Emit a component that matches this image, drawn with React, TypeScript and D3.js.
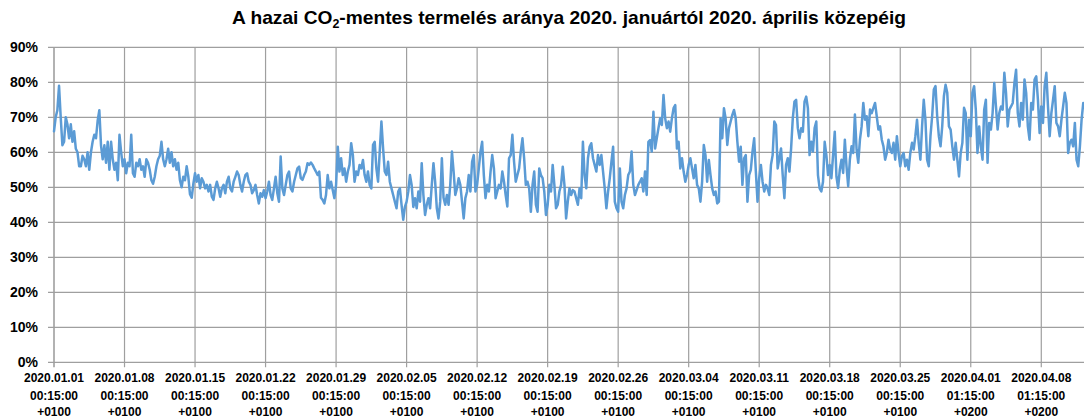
import React, { useMemo } from 'react';
import * as d3 from 'd3';

// ---- data ----
const yTickValues = [0, 10, 20, 30, 40, 50, 60, 70, 80, 90];
const yTickLabels = ['0%', '10%', '20%', '30%', '40%', '50%', '60%', '70%', '80%', '90%'];
const weekDates = ['2020.01.01', '2020.01.08', '2020.01.15', '2020.01.22', '2020.01.29', '2020.02.05', '2020.02.12', '2020.02.19', '2020.02.26', '2020.03.04', '2020.03.11', '2020.03.18', '2020.03.25', '2020.04.01', '2020.04.08'];
const weekTimes = ['00:15:00', '00:15:00', '00:15:00', '00:15:00', '00:15:00', '00:15:00', '00:15:00', '00:15:00', '00:15:00', '00:15:00', '00:15:00', '00:15:00', '00:15:00', '01:15:00', '01:15:00'];
const weekZones = ['+0100', '+0100', '+0100', '+0100', '+0100', '+0100', '+0100', '+0100', '+0100', '+0100', '+0100', '+0100', '+0100', '+0200', '+0200'];
const samplesPerDay = 6; // one reading every 4 hours
const daysShown = 102.24;

// CO2-free share (%), read every 4 hours, one array per week
const week01 = [66, 70, 72, 79, 70, 62, 63, 70, 68, 64, 68, 63, 66, 61, 60, 56, 56, 59, 58, 56, 60, 55, 60, 63, 65, 64, 69, 72, 62, 58, 62, 57, 63, 55, 63, 58, 55, 57, 52, 65, 60, 56];
const week02 = [58, 54, 57, 56, 65, 54, 53, 57, 56, 58, 55, 56, 53, 58, 57, 55, 52, 51, 53, 56, 58, 59, 63, 58, 56, 58, 61, 57, 60, 56, 58, 55, 57, 52, 50, 53, 52, 56, 53, 48, 47, 51];
const week03 = [54, 51.6, 53.5, 49.7, 52.6, 51.6, 49.7, 50.7, 48.8, 50.7, 47.3, 46.4, 49.7, 51.6, 49.7, 47.3, 49.7, 50.7, 48.3, 51.6, 53, 49.7, 48.8, 51.6, 53, 54.5, 53.5, 50.7, 48.8, 51.6, 53.5, 54, 51.6, 50.7, 48.3, 49.2, 50.7, 47.8, 45.4, 48.3, 47.3, 49.2];
const week04 = [46.9, 48.8, 51.6, 47.8, 46.4, 49.7, 53, 48.3, 45.9, 58.8, 49.7, 47.8, 50.7, 53.5, 54.5, 49.7, 48.8, 51.6, 53.5, 55.4, 55.9, 52.6, 52.1, 53.5, 54.5, 56.9, 56.4, 57.1, 56.4, 55.4, 54.5, 53.5, 54.5, 47, 46.4, 45.4, 47.8, 53.5, 49.7, 51.6, 49.2, 46.9];
const week05 = [50.7, 61.6, 54.5, 58.3, 53.5, 55.4, 51.6, 54.5, 56.4, 62.6, 59.2, 51.6, 54.5, 53.5, 56.4, 55.4, 57.8, 53.5, 51.6, 54.5, 50.7, 49.7, 62.1, 63, 55.4, 51.6, 60.2, 68.8, 61.1, 54.5, 53.5, 57.3, 51.6, 49.7, 47.8, 45.9, 44, 48.8, 49.7, 45, 40.7, 44.4];
const week06 = [45.9, 48.8, 53.5, 50.7, 44.4, 46.9, 44, 48.8, 45.9, 56.9, 47.8, 42.1, 45, 46.9, 44, 50.7, 56.9, 51.6, 44, 41.1, 45.9, 58.3, 47, 45, 47.8, 45, 50.7, 60.2, 54.5, 47.8, 49.7, 52.6, 50.7, 45.9, 41.1, 46.9, 48.8, 53.5, 48.8, 57.3, 59.2, 48.8];
const week07 = [50.7, 55.4, 60.2, 63, 53.5, 46.9, 50.7, 48.8, 54.5, 59.2, 55.4, 46.9, 48.8, 50.7, 49.7, 54.5, 51.6, 47.8, 44.5, 58.3, 59.2, 65, 57.3, 51.6, 53.5, 55.4, 60.2, 64, 58.3, 50.7, 51.6, 49.7, 43, 50.7, 54.5, 45, 43, 55.4, 53.5, 52.6, 48.8, 42.1];
const week08 = [45, 50.7, 48.8, 56.4, 50.7, 44, 45, 48.8, 50.7, 55.9, 50.7, 41.1, 45.9, 49.7, 47.8, 49.2, 48.8, 46.9, 45, 49.7, 46.9, 63, 53.5, 49.7, 58.3, 61.6, 62.6, 58.3, 56.4, 54.5, 59.2, 56.4, 59.2, 54.5, 49.7, 44, 48.8, 52.6, 57.3, 61.6, 45.9, 44];
const week09 = [43, 55.4, 45.9, 44, 47.8, 49.7, 53.5, 54.5, 60.2, 50.7, 47.8, 49.2, 50.7, 51.6, 52.6, 48.8, 54.5, 47.8, 63, 63.5, 60.2, 71.6, 61.1, 64, 66.9, 69.7, 67.8, 76.4, 69.7, 66.9, 68.8, 65.9, 69.7, 72.6, 73.5, 61.1, 63, 55.4, 58.3, 54.5, 51.6, 53.5];
const week10 = [56.4, 58.3, 55.4, 52.6, 56.4, 50.7, 49.7, 45.9, 51.6, 62.1, 59.2, 51.6, 57.8, 53.5, 49.7, 47.8, 48.8, 45.4, 45.9, 69.7, 64, 72.6, 69.7, 62.1, 66.9, 68.8, 70.7, 72.1, 69.7, 63, 57.3, 61.6, 50.7, 58.3, 59.2, 45.9, 53.5, 55, 60.2, 64, 54.5, 45.9];
const week11 = [52.6, 56.4, 51.6, 48.8, 50.7, 49.7, 47.8, 56.4, 59.2, 68.8, 67.8, 55.4, 58.3, 61.1, 53.5, 46.9, 56.4, 58.3, 54.5, 61.1, 69.7, 74.5, 75, 66.9, 64, 66.9, 65.9, 74.5, 75.9, 72.6, 59.2, 63, 60.2, 66.9, 68.8, 53.5, 49.7, 48.8, 51.6, 63, 59.2, 53.5];
const week12 = [56.4, 52.6, 59.2, 65.9, 53.1, 49.8, 55, 57.9, 54.1, 63.6, 56, 50.3, 57.9, 61.7, 59.8, 70.8, 60.8, 57, 63.6, 67.4, 74.1, 69.3, 70.3, 64.6, 72.2, 71.2, 72.7, 74.1, 70.3, 66.5, 67.4, 63.6, 61.7, 57.9, 59.8, 63.6, 60.8, 59.8, 62.7, 57.9, 64.6, 59.8];
const week13 = [56, 58.9, 59.8, 56, 57.9, 55, 59.8, 62.7, 60.8, 64.6, 69.3, 62.7, 57.9, 67.4, 75, 69.3, 57.9, 56, 64.6, 70.3, 77.9, 78.9, 70.3, 64.6, 61.7, 67.4, 76, 79.3, 77, 67.4, 66.5, 61.7, 57.9, 62.7, 57.9, 53.1, 59.8, 62.7, 72.7, 71.2, 57.9, 69.3];
const week14 = [64.6, 77, 78.9, 72.2, 59.8, 67.4, 61.7, 57.9, 72.2, 75, 57, 68.4, 66.5, 71.2, 79.8, 73.1, 66.5, 71.2, 73.1, 72.2, 82.7, 77, 67.4, 72.2, 73.1, 74.1, 79.8, 83.6, 71.2, 67.4, 74.1, 69.3, 80.8, 77, 67.4, 63.6, 74.1, 72.2, 80.8, 81.7, 75, 65.5];
const week15 = [73.1, 68.4, 78.9, 82.7, 73.1, 64.6, 71.2, 75, 78.9, 68.4, 67.4, 64.6, 69.3, 73.1, 77, 74.1, 59.8, 62.7, 63.6, 61.7, 68.4, 57.9, 56, 61.7, 69.3, 74.1];

const series = [week01, week02, week03, week04, week05, week06, week07, week08, week09, week10, week11, week12, week13, week14, week15].flat();

// ---- layout ----
const W = 1084;
const H = 418;
const plotLeft = 54;
const plotRight = 1084;
const plotTop = 47.3;
const plotBottom = 362.3;
const gridColor = '#9f9f9f';
const lineColor = '#5b9bd5';
const font = "'Liberation Sans', Arial, sans-serif";

export default function App() {
  const x = useMemo(() => d3.scaleLinear().domain([0, daysShown]).range([plotLeft, plotRight]), []);
  const y = useMemo(() => d3.scaleLinear().domain([0, 90]).range([plotBottom, plotTop]), []);
  const path = useMemo(
    () =>
      d3
        .line<number>()
        .x((_, i) => x(i / samplesPerDay))
        .y((d) => y(d))(series) || '',
    [x, y]
  );

  return (
    <svg
      width={W}
      height={H}
      viewBox={`0 0 ${W} ${H}`}
      style={{ position: 'absolute', left: 0, top: 0, background: '#fff' }}
      fontFamily={font}
    >
      <rect x={0} y={0} width={W} height={H} fill="#fff" />
      {/* title */}
      <text x={232} y={24} fontSize={18.5} fontWeight="bold" fill="#000" textLength={674} lengthAdjust="spacingAndGlyphs">
        A hazai CO<tspan fontSize={12} dy={4}>2</tspan>
        <tspan dy={-4}>-mentes termelés aránya 2020. januártól 2020. április közepéig</tspan>
      </text>

      {/* horizontal gridlines + y labels */}
      {yTickValues.map((v, i) => (
        <g key={'y' + v}>
          <line x1={plotLeft - 6} x2={plotRight} y1={y(v)} y2={y(v)} stroke={gridColor} strokeWidth={1.2} />
          <text x={38} y={y(v)} dy="0.36em" textAnchor="end" fontSize={14} fontWeight="bold" fill="#000">
            {yTickLabels[i]}
          </text>
        </g>
      ))}

      {/* vertical gridlines + x labels */}
      {weekDates.map((d, i) => {
        const xp = x(i * 7);
        return (
          <g key={'x' + d}>
            <line x1={xp} x2={xp} y1={plotTop} y2={plotBottom + 5} stroke={gridColor} strokeWidth={i === 0 ? 1.6 : 1.2} />
            <text x={xp} y={382} textAnchor="middle" fontSize={12} fontWeight="bold" fill="#000">
              {d}
            </text>
            <text x={xp} y={399.5} textAnchor="middle" fontSize={12} fontWeight="bold" fill="#000">
              {weekTimes[i]}
            </text>
            <text x={xp} y={416} textAnchor="middle" fontSize={12} fontWeight="bold" fill="#000">
              {weekZones[i]}
            </text>
          </g>
        );
      })}

      {/* data line */}
      <path d={path} fill="none" stroke={lineColor} strokeWidth={2.5} strokeLinejoin="round" strokeLinecap="round" />
    </svg>
  );
}
